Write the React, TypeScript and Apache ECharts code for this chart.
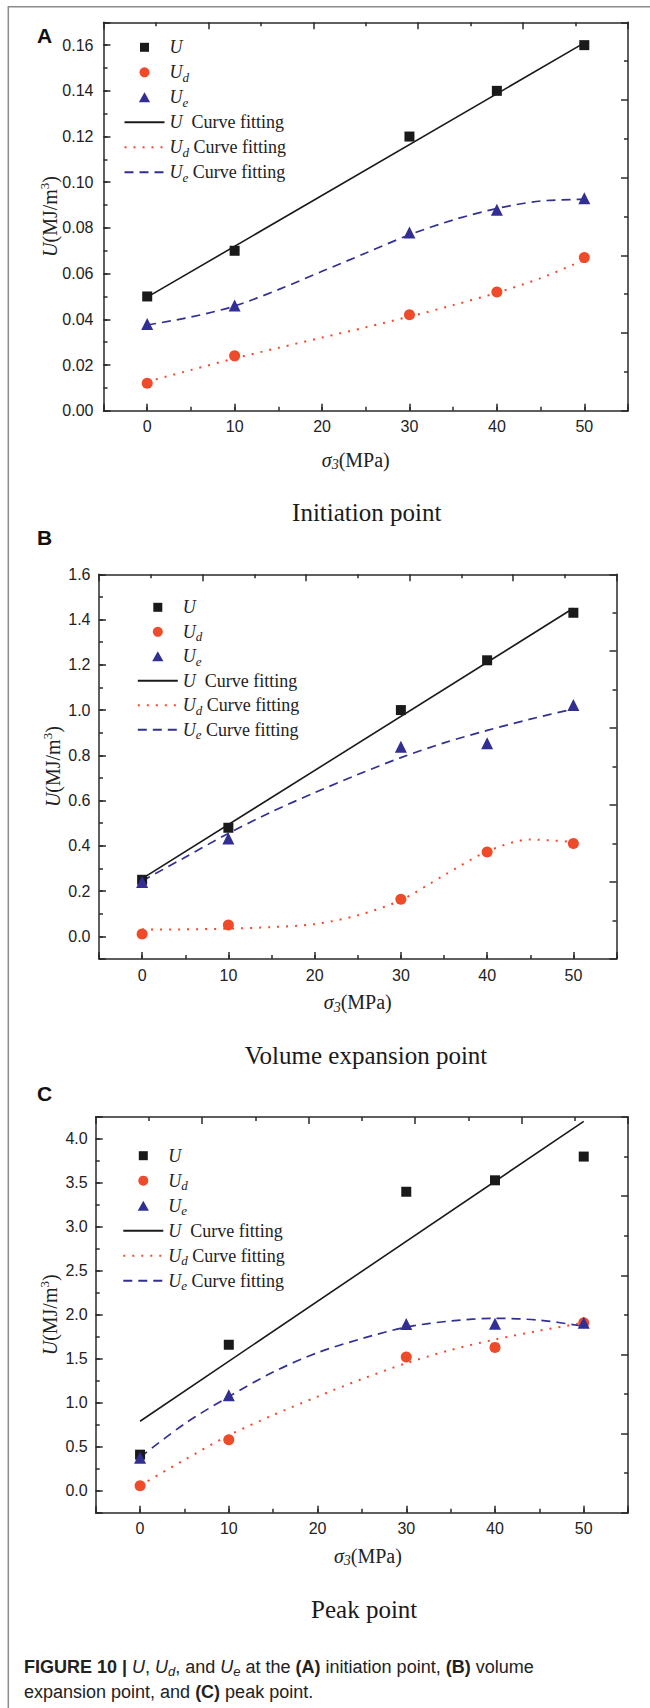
import React, { useEffect, useRef } from "react";
import * as echarts from "echarts";

// ---------- data ----------
const SIGMA3 = [0, 10, 30, 40, 50];
const FIT_LINE_X = [0, 50];
const FIT_CURVE_X = [0, 5, 10, 15, 20, 25, 30, 35, 40, 45, 50];

// (A) initiation point
const A_U = [0.05, 0.07, 0.12, 0.14, 0.16];
const A_UD = [0.012, 0.024, 0.042, 0.052, 0.067];
const A_UE = [0.038, 0.046, 0.078, 0.088, 0.093];
const A_FIT_U = [0.0497, 0.161];
const A_FIT_UD = [0.0127, 0.0178, 0.0229, 0.0275, 0.032, 0.0365, 0.0412, 0.0462, 0.0516, 0.058, 0.066];
const A_FIT_UE = [0.0375, 0.041, 0.0458, 0.053, 0.061, 0.069, 0.077, 0.0835, 0.0885, 0.0918, 0.0925];

// (B) volume expansion point
const B_U = [0.25, 0.48, 1.0, 1.22, 1.43];
const B_UD = [0.01, 0.05, 0.164, 0.373, 0.41];
const B_UE = [0.24, 0.432, 0.838, 0.853, 1.022];
const B_FIT_U = [0.255, 1.45];
const B_FIT_UD = [0.03, 0.031, 0.034, 0.041, 0.054, 0.093, 0.16, 0.27, 0.375, 0.428, 0.417];
const B_FIT_UE = [0.245, 0.35, 0.455, 0.55, 0.635, 0.715, 0.79, 0.855, 0.91, 0.96, 1.005];

// (C) peak point
const C_U = [0.41, 1.66, 3.4, 3.53, 3.8];
const C_UD = [0.057, 0.58, 1.52, 1.63, 1.91];
const C_UE = [0.376, 1.086, 1.895, 1.9, 1.91];
const C_FIT_U = [0.79, 4.2];
const C_FIT_UD = [0.06, 0.35, 0.63, 0.86, 1.07, 1.27, 1.45, 1.6, 1.72, 1.82, 1.91];
const C_FIT_UE = [0.38, 0.76, 1.07, 1.35, 1.57, 1.73, 1.86, 1.93, 1.96, 1.94, 1.87];

const SUBTITLES = ["Initiation point", "Volume expansion point", "Peak point"];
const LETTERS = ["A", "B", "C"];

// ---------- styles ----------
const SERIF = '"Liberation Serif", "Times New Roman", serif';
const SANS = '"Liberation Sans", Arial, sans-serif';
const AX = "#2a2a2a";
const BLACK = "#1a1a1a";
const RED = "#ef4a2a";
const BLUE = "#312f94";
const TXT = "#222";
const CLEAR = "rgba(0,0,0,0)";

// legend icons: invisible move-to points span the 40x10 icon box so the glyph keeps its shape
const ICON_SQUARE = "path://M0,0M40,10M15.5,0.5L24.5,0.5L24.5,9.5L15.5,9.5Z";
const ICON_TRIANGLE = "path://M0,0M40,10M20,0L25.6,10L14.4,10Z";

const lineSt = { color: AX, width: 1.5 };

const NAME_RICH = {
  i: { fontFamily: SERIF, fontStyle: "italic", fontSize: 20, lineHeight: 22, color: TXT },
  isub: { fontFamily: SERIF, fontStyle: "italic", fontSize: 14, lineHeight: 22, padding: [10, 0, 0, 0], color: TXT },
  n: { fontFamily: SERIF, fontSize: 20, lineHeight: 22, color: TXT },
  sup: { fontFamily: SERIF, fontSize: 13, lineHeight: 22, padding: [0, 0, 11, 0], color: TXT },
};
const X_NAME = "{i|σ}{isub|3}{n|(MPa)}";
const Y_NAME = "{i|U}{n|(MJ/m}{sup|3}{n|)}";

const LEG_RICH = {
  i: { fontFamily: SERIF, fontStyle: "italic", fontSize: 18, lineHeight: 24, color: TXT },
  isub: { fontFamily: SERIF, fontStyle: "italic", fontSize: 13, lineHeight: 24, padding: [10, 0, 0, 0], color: TXT },
  n: { fontFamily: SERIF, fontSize: 18, lineHeight: 24, color: TXT },
};
const LEG_TEXT: Record<string, string> = {
  U: "{i|U}",
  Ud: "{i|U}{isub|d}",
  Ue: "{i|U}{isub|e}",
  Uf: "{i|U}{n|  Curve fitting}",
  Udf: "{i|U}{isub|d}{n| Curve fitting}",
  Uef: "{i|U}{isub|e}{n| Curve fitting}",
};

const pairs = (xs: number[], ys: number[]) => xs.map((x, i) => [x, ys[i]]);

type Panel = {
  grid: { left: number; top: number; width: number; height: number };
  yMin: number; yMax: number; yMinor: number; yMajor: number;
  yFmt: (v: number) => string;
  yLabelMargin: number; yNameGap: number; xNameGap: number; xNamePad: number[];
  legend: { left: number; top: number; gap: number };
  data: { U: number[]; Ud: number[]; Ue: number[]; fU: number[]; fUd: number[]; fUe: number[] };
};

const PANELS: Panel[] = [
  {
    grid: { left: 103.5, top: 22.3, width: 524.5, height: 388.4 },
    yMin: 0, yMax: 0.17, yMinor: 0.01, yMajor: 0.02,
    yFmt: (v) => { const r = Math.round(v * 100); return r >= 0 && r % 2 === 0 ? (r / 100).toFixed(2) : ""; },
    yLabelMargin: 10, yNameGap: 43, xNameGap: 38, xNamePad: [0, 20, 0, 0],
    legend: { left: 123.5, top: 35.3, gap: 1 },
    data: { U: A_U, Ud: A_UD, Ue: A_UE, fU: A_FIT_U, fUd: A_FIT_UD, fUe: A_FIT_UE },
  },
  {
    grid: { left: 99, top: 574.3, width: 517.5, height: 384.7 },
    yMin: -0.1, yMax: 1.6, yMinor: 0.1, yMajor: 0.2,
    yFmt: (v) => { const r = Math.round(v * 10); return r >= 0 && r % 2 === 0 ? (r / 10).toFixed(1) : ""; },
    yLabelMargin: 8.5, yNameGap: 35, xNameGap: 32, xNamePad: [0, 0, 0, 0],
    legend: { left: 136.8, top: 595.3, gap: 0.5 },
    data: { U: B_U, Ud: B_UD, Ue: B_UE, fU: B_FIT_U, fUd: B_FIT_UD, fUe: B_FIT_UE },
  },
  {
    grid: { left: 95.7, top: 1117, width: 532.4, height: 395.7 },
    yMin: -0.25, yMax: 4.25, yMinor: 0.25, yMajor: 0.5,
    yFmt: (v) => { const r = Math.round(v * 4); return r >= 0 && r % 2 === 0 ? (r / 4).toFixed(1) : ""; },
    yLabelMargin: 8, yNameGap: 35, xNameGap: 32, xNamePad: [0, 0, 0, 12],
    legend: { left: 122.3, top: 1143.7, gap: 1 },
    data: { U: C_U, Ud: C_UD, Ue: C_UE, fU: C_FIT_U, fUd: C_FIT_UD, fUe: C_FIT_UE },
  },
];

const fmtX = (v: number) => (v % 10 === 0 && v >= 0 && v <= 50 ? String(v) : "");

function buildOption() {
  const grids: any[] = [];
  const xAxes: any[] = [];
  const yAxes: any[] = [];
  const series: any[] = [];
  const legends: any[] = [];

  PANELS.forEach((p, g) => {
    const pre = LETTERS[g] + "-";
    grids.push({ ...p.grid, containLabel: false, outerBoundsMode: "none" });

    xAxes.push(
      {
        gridIndex: g, type: "value", position: "bottom", min: -5, max: 55, interval: 5,
        axisLine: { show: true, onZero: false, lineStyle: lineSt },
        axisTick: { show: true, inside: true, length: 4, lineStyle: lineSt },
        axisLabel: { show: true, margin: 8, color: TXT, fontSize: 16, fontFamily: SANS, formatter: fmtX },
        splitLine: { show: false },
        name: X_NAME, nameLocation: "middle", nameGap: p.xNameGap, nameMoveOverlap: false,
        nameTextStyle: { rich: NAME_RICH, padding: p.xNamePad },
      },
      {
        gridIndex: g, type: "value", position: "bottom", min: -5, max: 55, minInterval: 10, maxInterval: 10,
        axisLine: { show: false, onZero: false },
        axisTick: { show: true, inside: true, length: 7, lineStyle: lineSt },
        axisLabel: { show: false }, splitLine: { show: false },
      },
      {
        gridIndex: g, type: "value", position: "top", min: 0, max: 10, interval: 2,
        axisLine: { show: true, onZero: false, lineStyle: lineSt },
        axisTick: { show: true, inside: true, length: 7, lineStyle: lineSt },
        minorTick: { show: true, splitNumber: 2, length: 4, lineStyle: lineSt },
        axisLabel: { show: false }, splitLine: { show: false }, minorSplitLine: { show: false },
      }
    );

    yAxes.push(
      {
        gridIndex: g, type: "value", position: "left", min: p.yMin, max: p.yMax, interval: p.yMinor,
        axisLine: { show: true, onZero: false, lineStyle: lineSt },
        axisTick: { show: true, inside: true, length: 4, lineStyle: lineSt },
        axisLabel: { show: true, margin: p.yLabelMargin, color: TXT, fontSize: 16, fontFamily: SANS, formatter: p.yFmt },
        splitLine: { show: false },
        name: Y_NAME, nameLocation: "middle", nameGap: p.yNameGap, nameRotate: 90, nameMoveOverlap: false,
        nameTextStyle: { rich: NAME_RICH },
      },
      {
        gridIndex: g, type: "value", position: "left", min: p.yMin, max: p.yMax,
        minInterval: p.yMajor, maxInterval: p.yMajor,
        axisLine: { show: false, onZero: false },
        axisTick: { show: true, inside: true, length: 7, lineStyle: lineSt },
        axisLabel: { show: false }, splitLine: { show: false },
      },
      {
        gridIndex: g, type: "value", position: "right", min: 0, max: 10, interval: 2,
        axisLine: { show: true, onZero: false, lineStyle: lineSt },
        axisTick: { show: true, inside: true, length: 7, lineStyle: lineSt },
        minorTick: { show: true, splitNumber: 2, length: 4, lineStyle: lineSt },
        axisLabel: { show: false }, splitLine: { show: false }, minorSplitLine: { show: false },
      }
    );

    const ax = { xAxisIndex: 3 * g, yAxisIndex: 3 * g };
    const d = p.data;
    series.push(
      { ...ax, name: pre + "Uf", type: "line", data: pairs(FIT_LINE_X, d.fU), symbol: "none", silent: true, z: 2,
        lineStyle: { color: BLACK, width: 1.6, type: "solid" }, itemStyle: { color: BLACK } },
      { ...ax, name: pre + "Udf", type: "line", smooth: 0.3, data: pairs(FIT_CURVE_X, d.fUd), symbol: "none", silent: true, z: 2,
        lineStyle: { color: RED, width: 2, type: [2, 7] }, itemStyle: { color: RED } },
      { ...ax, name: pre + "Uef", type: "line", smooth: 0.3, data: pairs(FIT_CURVE_X, d.fUe), symbol: "none", silent: true, z: 2,
        lineStyle: { color: BLUE, width: 1.7, type: [9, 6] }, itemStyle: { color: BLUE } },
      { ...ax, name: pre + "U", type: "scatter", data: pairs(SIGMA3, d.U), symbol: "rect", symbolSize: 10, z: 3,
        itemStyle: { color: BLACK, opacity: 1 } },
      { ...ax, name: pre + "Ud", type: "scatter", data: pairs(SIGMA3, d.Ud), symbol: "circle", symbolSize: 11, z: 3,
        itemStyle: { color: RED, opacity: 1 } },
      { ...ax, name: pre + "Ue", type: "scatter", data: pairs(SIGMA3, d.Ue), symbol: "triangle", symbolSize: 12, z: 3,
        itemStyle: { color: BLUE, opacity: 1 } }
    );

    const scatterItem = (k: string, icon: string, color: string) => ({
      name: pre + k, icon, itemStyle: { color, opacity: 1 },
    });
    const lineItem = (k: string) => ({
      name: pre + k,
      itemStyle: { color: CLEAR, borderColor: CLEAR, borderWidth: 0, opacity: 0 },
    });

    legends.push({
      orient: "vertical", left: p.legend.left, top: p.legend.top, padding: 0,
      itemWidth: 40, itemHeight: 10, itemGap: p.legend.gap, selectedMode: false,
      data: [
        scatterItem("U", ICON_SQUARE, BLACK),
        scatterItem("Ud", "circle", RED),
        scatterItem("Ue", ICON_TRIANGLE, BLUE),
        lineItem("Uf"),
        lineItem("Udf"),
        lineItem("Uef"),
      ],
      formatter: (name: string) => LEG_TEXT[name.slice(2)],
      textStyle: { fontFamily: SERIF, fontSize: 18, lineHeight: 24, color: TXT, rich: LEG_RICH },
    });
  });

  const subtitleY = [512, 1055.7, 1609];
  const subtitleX = [366.7, 366, 364.2];
  const letterY = [35, 537, 1093];

  const elements: any[] = [
    {
      type: "polyline", silent: true,
      shape: { points: [[8.3, 1708], [8.3, 6.7], [650, 6.7]] },
      style: { stroke: "#8c8c8c", lineWidth: 1.5, fill: null },
    },
  ];
  LETTERS.forEach((L, i) => {
    elements.push({
      type: "text", x: 37, y: letterY[i], silent: true,
      style: { text: L, fontFamily: SANS, fontWeight: "bold", fontSize: 21, fill: "#111", align: "left", verticalAlign: "middle" },
    });
    elements.push({
      type: "text", x: subtitleX[i], y: subtitleY[i], silent: true,
      style: { text: SUBTITLES[i], fontFamily: SERIF, fontSize: 25, fill: "#1a1a1a", align: "center", verticalAlign: "middle" },
    });
  });
  elements.push({
    type: "text", x: 24, y: 1654.2, silent: true,
    style: {
      text:
        "{b|FIGURE 10 |} {i|U}, {i|U}{isub|d}, and {i|U}{isub|e} at the {b|(A)} initiation point, {b|(B)} volume\nexpansion point, and {b|(C)} peak point.",
      fontFamily: SANS, fontSize: 18, lineHeight: 25, fill: TXT, align: "left", verticalAlign: "top",
      rich: {
        b: { fontFamily: SANS, fontWeight: "bold", fontSize: 18, lineHeight: 25, fill: TXT },
        i: { fontFamily: SANS, fontStyle: "italic", fontSize: 18, lineHeight: 25, fill: TXT },
        isub: { fontFamily: SANS, fontStyle: "italic", fontSize: 13, lineHeight: 25, padding: [9, 0, 0, 0], fill: TXT },
      },
    },
  });

  return {
    animation: false,
    backgroundColor: "#ffffff",
    grid: grids,
    xAxis: xAxes,
    yAxis: yAxes,
    legend: legends,
    series,
    graphic: { elements },
  };
}

export default function App() {
  const ref = useRef<HTMLDivElement>(null);
  useEffect(() => {
    document.body.style.margin = "0";
    if (!ref.current) return;
    const chart = echarts.init(ref.current, undefined, { renderer: "svg" });
    chart.setOption(buildOption() as any);
    return () => chart.dispose();
  }, []);
  return <div ref={ref} style={{ width: 650, height: 1708 }} />;
}
